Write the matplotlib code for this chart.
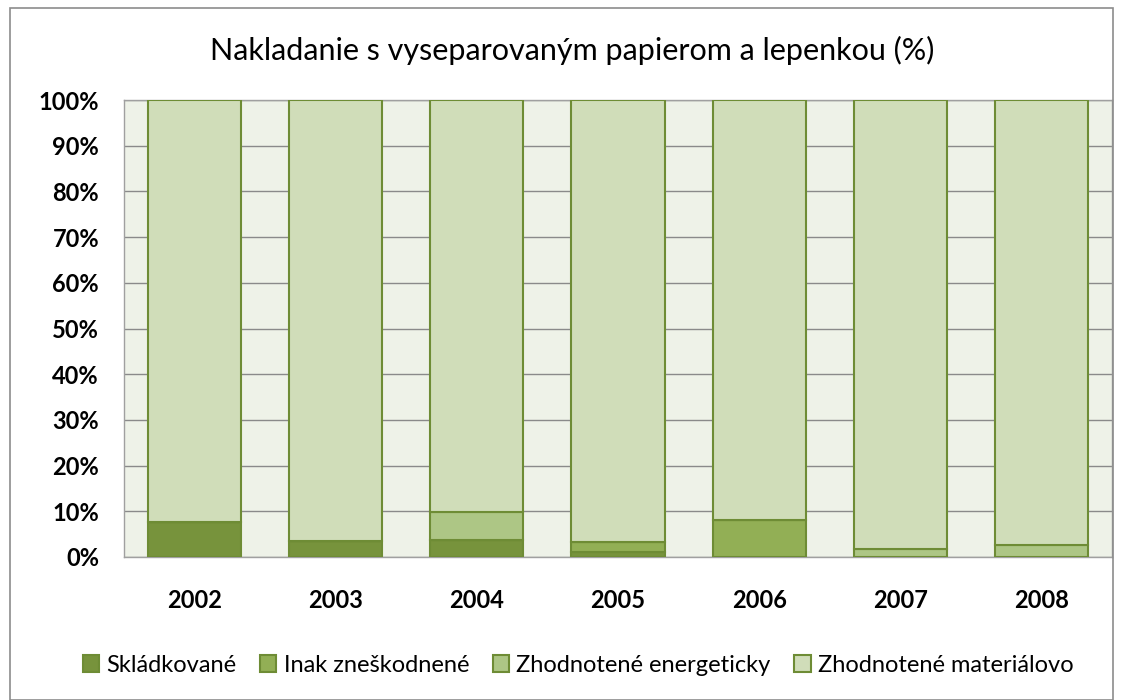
import matplotlib
matplotlib.use("Agg")
import matplotlib.pyplot as plt
from matplotlib.patches import Rectangle
import numpy as np

years = ["2002", "2003", "2004", "2005", "2006", "2007", "2008"]
skladkovane = [7.7, 3.5, 3.7, 1.0, 0.0, 0.0, 0.0]
inak = [0.0, 0.0, 0.0, 2.3, 8.2, 0.0, 0.0]
energeticky = [0.0, 0.0, 6.1, 0.0, 0.0, 1.8, 2.6]
materialovo = [100 - a - b - c for a, b, c in zip(skladkovane, inak, energeticky)]

series = [
    ("Skládkované", skladkovane, "#77933C"),
    ("Inak zneškodnené", inak, "#92AF55"),
    ("Zhodnotené energeticky", energeticky, "#ADC685"),
    ("Zhodnotené materiálovo", materialovo, "#D0DDB9"),
]

plt.rcParams['font.family'] = ['Lato', 'DejaVu Sans']

fig = plt.figure(figsize=(11.3, 7.0), dpi=100)
fig.patches.append(Rectangle((10/1130, 0), 1103/1130, 692/700, transform=fig.transFigure,
                             fill=False, edgecolor="#8c8c8c", linewidth=1.2))
ax = fig.add_axes([124/1130, 1 - 557/700, 988/1130, 457/700])
ax.set_facecolor("#EEF2E8")

x = np.arange(len(years))
bottom = np.zeros(len(years))
for name, vals, col in series:
    v = np.array(vals)
    ax.bar(x, v, bottom=bottom, width=0.66, color=col, edgecolor="#6E8C35",
           linewidth=1.5, label=name, zorder=3)
    bottom += v

ax.set_xlim(-0.5, len(years) - 0.5)
ax.set_ylim(0, 100)
ax.set_yticks(np.arange(0, 101, 10))
ax.set_yticklabels([f"{t}%" for t in range(0, 101, 10)], fontsize=17, fontweight='bold')
ax.set_xticks(x)
ax.set_xticklabels(years, fontsize=17, fontweight='bold')
ax.yaxis.grid(True, color="#8a8a8a", linewidth=1.0, zorder=0)
ax.set_axisbelow(True)
for s in ["top", "right", "left", "bottom"]:
    ax.spines[s].set_color("#a0a0a0")
    ax.spines[s].set_linewidth(1.0)
ax.tick_params(axis='y', length=0, pad=18)
ax.tick_params(axis='x', length=0, pad=23)

fig.text(572/1130, 1 - 50/700, "Nakladanie s vyseparovaným papierom a lepenkou (%)",
         ha='center', va='center', fontsize=22)

handles, labels = ax.get_legend_handles_labels()
fig.legend(handles, labels, loc='center', bbox_to_anchor=(578/1130, 1 - 665/700), ncol=4,
           frameon=False, fontsize=17, handlelength=0.7, handleheight=0.7,
           handletextpad=0.3, columnspacing=1.0)

fig.savefig("out.png", dpi=100)
